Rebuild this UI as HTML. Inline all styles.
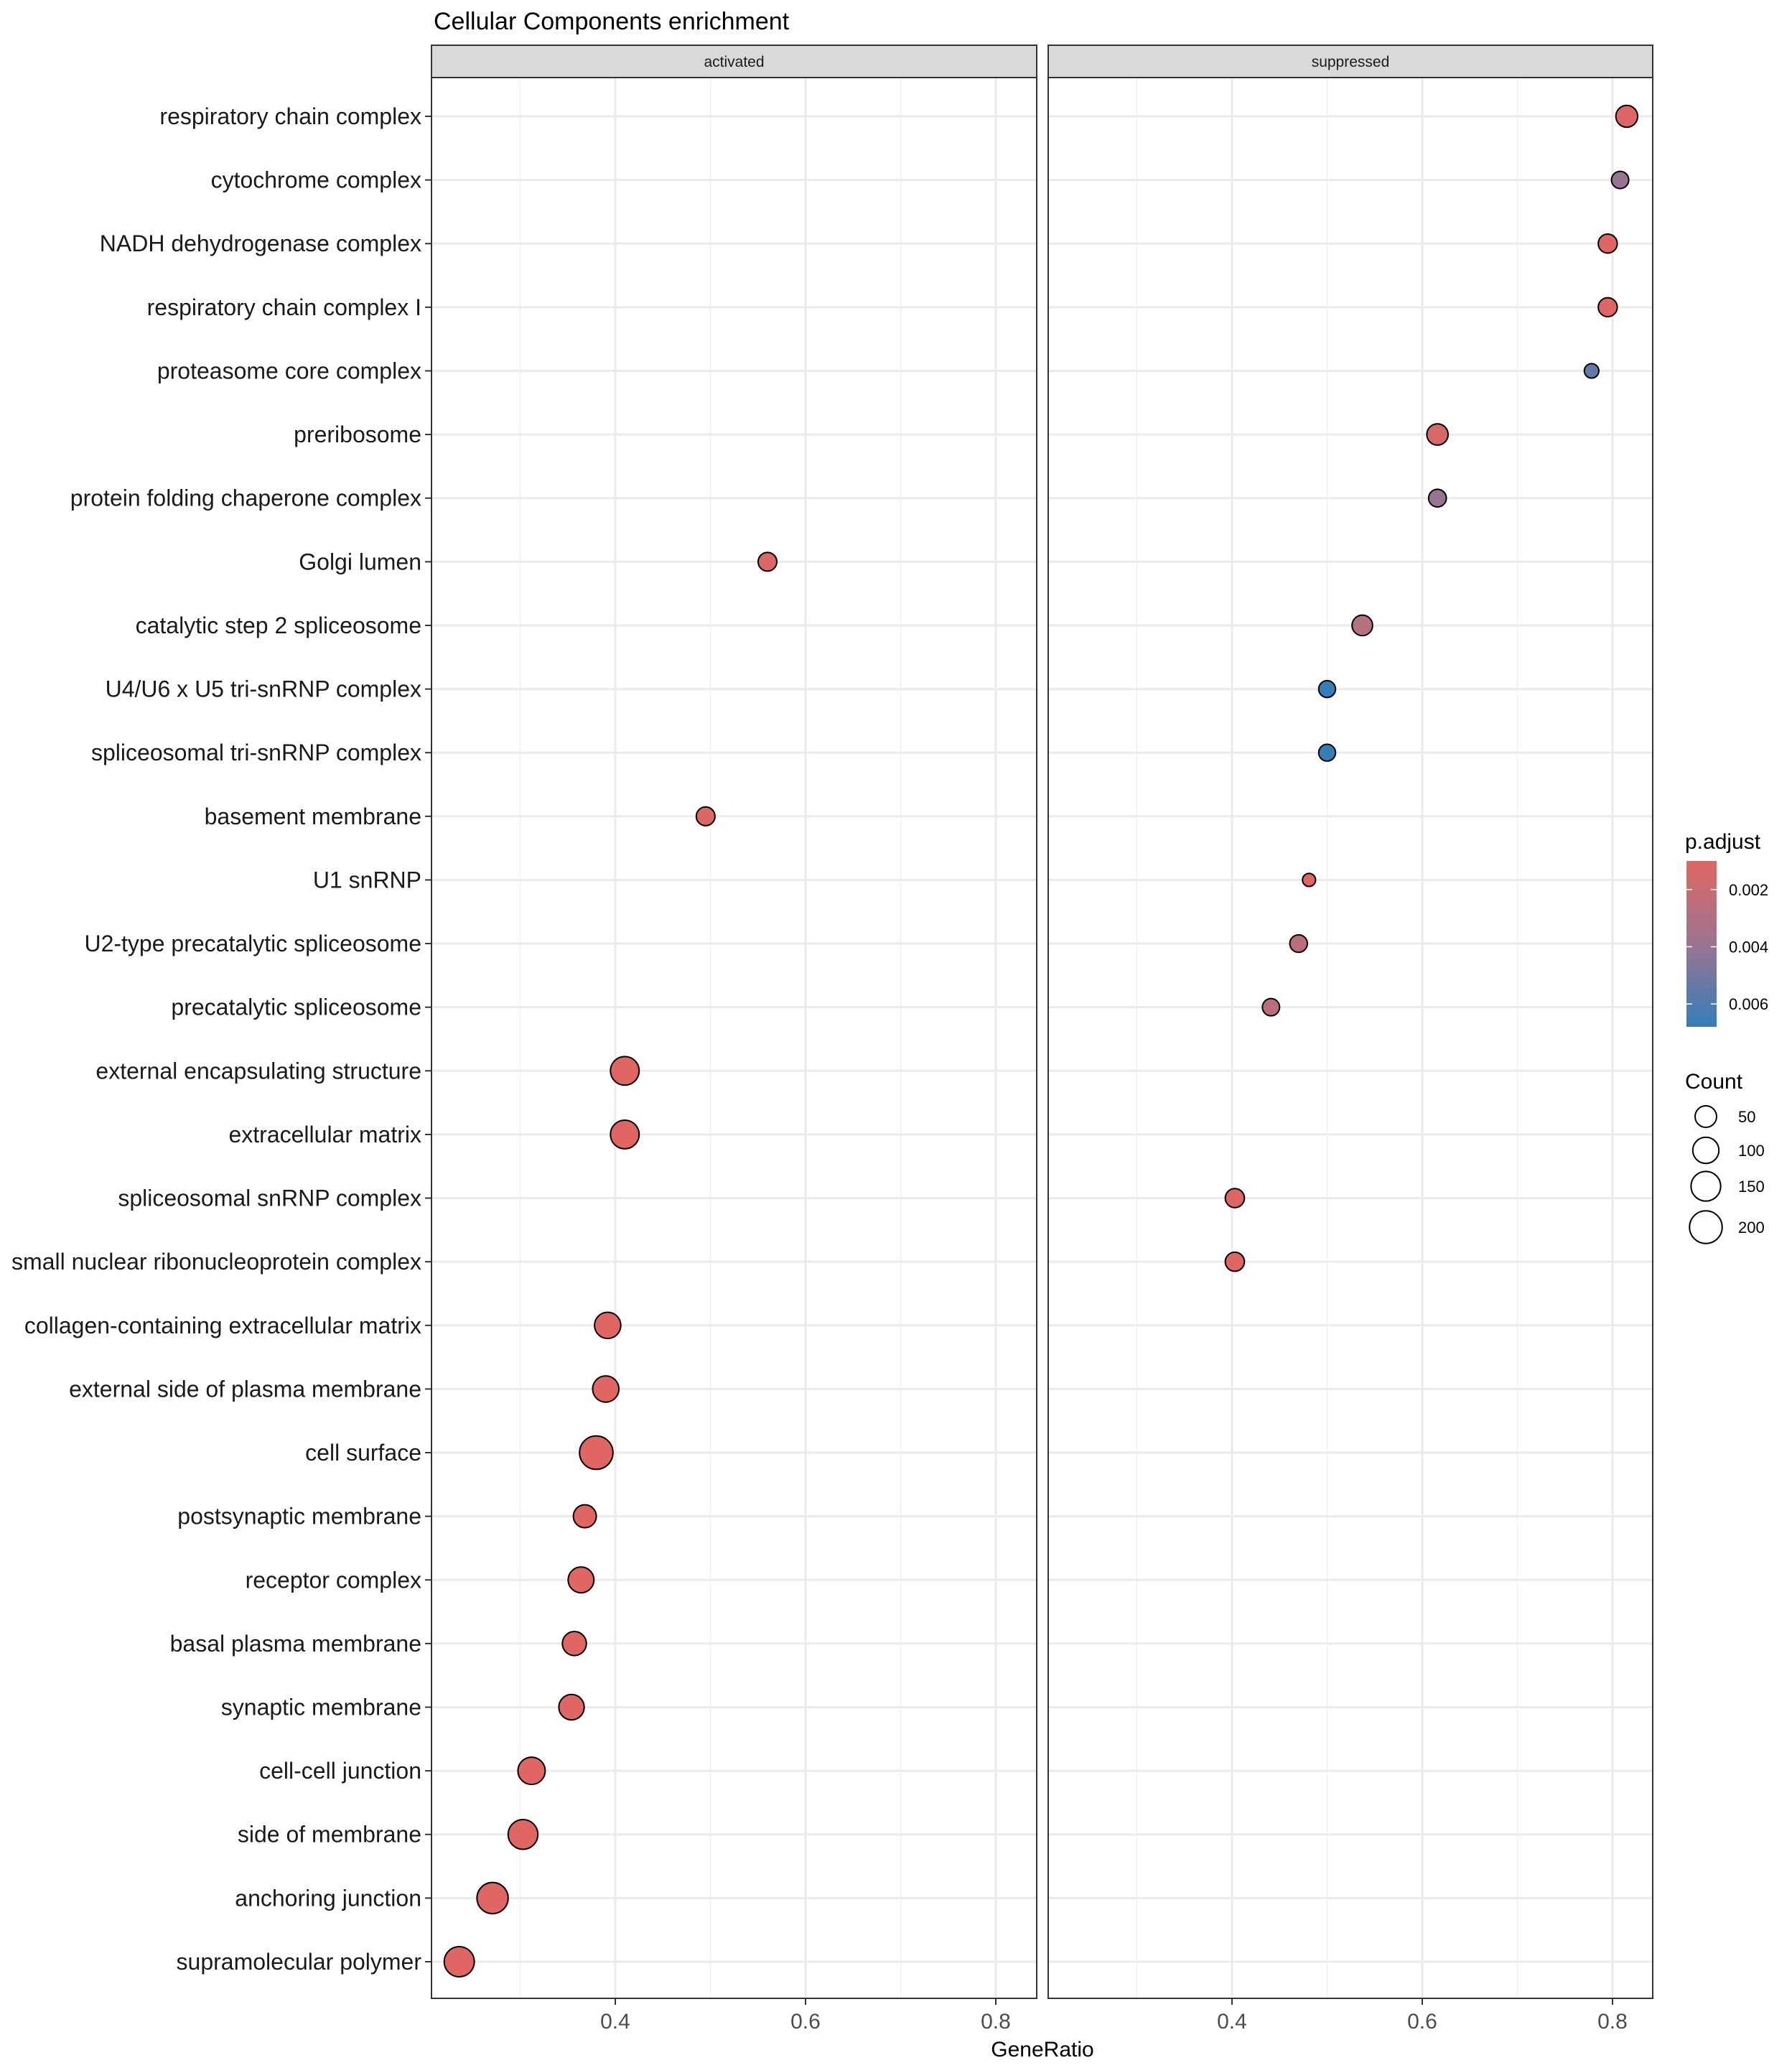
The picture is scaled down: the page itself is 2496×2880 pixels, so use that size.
<!DOCTYPE html>
<html><head><meta charset="utf-8"><style>
body{margin:0;background:#fff}
svg{display:block;font-family:"Liberation Sans",Arial,sans-serif}
</style></head><body>
<svg id="chart" width="2496" height="2880" viewBox="0 0 2496 2880" xmlns="http://www.w3.org/2000/svg">
<text x="604" y="41" font-size="34" fill="#000">Cellular Components enrichment</text>
<g id="grid"></g><g id="frames"></g><g id="marks"></g><g id="axes"></g><g id="legend"></g>
</svg>
<script>
const categories = ["respiratory chain complex","cytochrome complex","NADH dehydrogenase complex","respiratory chain complex I","proteasome core complex","preribosome","protein folding chaperone complex","Golgi lumen","catalytic step 2 spliceosome","U4/U6 x U5 tri-snRNP complex","spliceosomal tri-snRNP complex","basement membrane","U1 snRNP","U2-type precatalytic spliceosome","precatalytic spliceosome","external encapsulating structure","extracellular matrix","spliceosomal snRNP complex","small nuclear ribonucleoprotein complex","collagen-containing extracellular matrix","external side of plasma membrane","cell surface","postsynaptic membrane","receptor complex","basal plasma membrane","synaptic membrane","cell-cell junction","side of membrane","anchoring junction","supramolecular polymer"];
const panels = ["activated","suppressed"];
const actTerms = ["Golgi lumen","basement membrane","external encapsulating structure","extracellular matrix","collagen-containing extracellular matrix","external side of plasma membrane","cell surface","postsynaptic membrane","receptor complex","basal plasma membrane","synaptic membrane","cell-cell junction","side of membrane","anchoring junction","supramolecular polymer"];
const actRatio = [0.560,0.495,0.410,0.410,0.392,0.390,0.380,0.368,0.364,0.357,0.354,0.312,0.303,0.271,0.236];
const actCount = [28,28,135,135,102,102,214,64,96,75,91,115,151,174,157];
const actPadj = [0.00115,0.00115,0.0010,0.0010,0.0010,0.0010,0.0010,0.0010,0.0010,0.0010,0.0010,0.0010,0.0010,0.0010,0.0010];
const supTerms = ["respiratory chain complex","cytochrome complex","NADH dehydrogenase complex","respiratory chain complex I","proteasome core complex","preribosome","protein folding chaperone complex","catalytic step 2 spliceosome","U4/U6 x U5 tri-snRNP complex","spliceosomal tri-snRNP complex","U1 snRNP","U2-type precatalytic spliceosome","precatalytic spliceosome","spliceosomal snRNP complex","small nuclear ribonucleoprotein complex"];
const supRatio = [0.815,0.808,0.795,0.795,0.778,0.616,0.616,0.537,0.500,0.500,0.481,0.470,0.441,0.403,0.403];
const supCount = [53,19,30,30,7,48,22,42,17,17,3,21,19,31,31];
const supPadj = [0.00108,0.00402,0.00108,0.00108,0.00541,0.00139,0.00402,0.00278,0.00673,0.00673,0.00108,0.00255,0.00255,0.00108,0.00108];
const xTicks = [0.4,0.6,0.8];
const xMinor = [0.3,0.5,0.7];
const pTicks = [0.002,0.004,0.006];
const countBreaks = [50,100,150,200];

const NS="http://www.w3.org/2000/svg";
function mk(parent,tag,attrs,name,text){const e=document.createElementNS(NS,tag);for(const k in attrs)e.setAttribute(k,attrs[k]);


if(text!==undefined)e.textContent=text;parent.appendChild(e);return e;}
const panelX=[[601,1444],[1460,2302]];
const plotTop=108, plotBottom=2783;
function xScale(p,v){return panelX[p][0]+(v-0.2068)*1325;}
function yScale(i){return 162+i*88.62;}
function rScale(c){return 8.2+1.1*Math.sqrt(c);}
const pMin=0.0010,pMax=0.0068;
function color(p){let t=(p-pMin)/(pMax-pMin);t=Math.max(0,Math.min(1,t));
const a=[224,102,99],b=[50,126,186],m=[155,116,144];
let c;if(t<0.5){const u=t*2;c=a.map((v,k)=>v+(m[k]-v)*u);}else{const u=(t-0.5)*2;c=m.map((v,k)=>v+(b[k]-v)*u);}
return `rgb(${c.map(Math.round).join(',')})`;}
const G=document.getElementById('grid'),F=document.getElementById('frames'),M=document.getElementById('marks'),A=document.getElementById('axes'),L=document.getElementById('legend');
panels.forEach((pn,p)=>{
 const [x0,x1]=panelX[p];
 mk(G,'rect',{x:x0,y:plotTop,width:x1-x0,height:plotBottom-plotTop,fill:'#fff'},'panel-background-'+pn);
 xMinor.forEach(v=>mk(G,'line',{x1:xScale(p,v),x2:xScale(p,v),y1:plotTop,y2:plotBottom,stroke:'#F0F0F0','stroke-width':1.5},'minor-gridline'));
 xTicks.forEach(v=>mk(G,'line',{x1:xScale(p,v),x2:xScale(p,v),y1:plotTop,y2:plotBottom,stroke:'#EBEBEB','stroke-width':3},'major-gridline'));
 categories.forEach((c,i)=>mk(G,'line',{x1:x0,x2:x1,y1:yScale(i),y2:yScale(i),stroke:'#EBEBEB','stroke-width':3},'row-gridline'));
 mk(F,'rect',{x:x0,y:plotTop,width:x1-x0,height:plotBottom-plotTop,fill:'none',stroke:'#333','stroke-width':2},'panel-border-'+pn);
 mk(F,'rect',{x:x0,y:63,width:x1-x0,height:45,fill:'#D9D9D9',stroke:'#333','stroke-width':2},'strip-'+pn);
 mk(F,'text',{x:(x0+x1)/2,y:93,'font-size':21,'text-anchor':'middle',fill:'#1A1A1A'},'strip-label-'+pn,pn);
 xTicks.forEach(v=>{const x=xScale(p,v);
  mk(A,'line',{x1:x,x2:x,y1:plotBottom,y2:plotBottom+9,stroke:'#333','stroke-width':2},'x-tick');
  mk(A,'text',{x:x,y:2825,'font-size':30,'text-anchor':'middle',fill:'#4D4D4D'},'x-tick-label',v.toFixed(1));});
});
categories.forEach((c,i)=>{const y=yScale(i);
 mk(A,'line',{x1:592,x2:601,y1:y,y2:y,stroke:'#333','stroke-width':2},'y-tick');
 mk(A,'text',{x:587,y:y+11,'font-size':32,'text-anchor':'end',fill:'#1A1A1A'},'y-tick-label',c);});
mk(A,'text',{x:1452,y:2864,'font-size':30,'text-anchor':'middle',fill:'#000'},'x-axis-title','GeneRatio');
function drawSeries(p,terms,ratio,count,padj,nm){terms.forEach((t,k)=>{const i=categories.indexOf(t);
 mk(M,'circle',{cx:xScale(p,ratio[k]),cy:yScale(i),r:rScale(count[k])-1,fill:color(padj[k]),stroke:'#000','stroke-width':2},nm+'-point');});}
drawSeries(0,actTerms,actRatio,actCount,actPadj,'activated');
drawSeries(1,supTerms,supRatio,supCount,supPadj,'suppressed');
mk(L,'text',{x:2347,y:1182,'font-size':30,fill:'#000'},'color-legend-title','p.adjust');
const defs=mk(L,'defs',{},'legend-defs');
const lg=mk(defs,'linearGradient',{id:'pg',x1:0,y1:0,x2:0,y2:1},'colorbar-gradient');
for(let s=0;s<=10;s++){const p=pMin+(pMax-pMin)*s/10;mk(lg,'stop',{offset:s/10,'stop-color':color(p)},'gradient-stop');}
const cbTop=1199,cbBot=1430;
mk(L,'rect',{x:2349,y:cbTop,width:42,height:cbBot-cbTop,fill:'url(#pg)'},'colorbar');
pTicks.forEach(v=>{const y=cbTop+(v-pMin)/(pMax-pMin)*(cbBot-cbTop);
 mk(L,'line',{x1:2349,x2:2357,y1:y,y2:y,stroke:'#fff','stroke-width':1.5},'colorbar-tick');
 mk(L,'line',{x1:2383,x2:2391,y1:y,y2:y,stroke:'#fff','stroke-width':1.5},'colorbar-tick');
 mk(L,'text',{x:2408,y:y+8,'font-size':22,fill:'#000'},'colorbar-label',v.toFixed(3));});
mk(L,'text',{x:2347,y:1516,'font-size':30,fill:'#000'},'size-legend-title','Count');
const legCy=[1555,1602,1652,1709];
countBreaks.forEach((c,k)=>{mk(L,'circle',{cx:2376,cy:legCy[k],r:rScale(c)-1,fill:'none',stroke:'#000','stroke-width':2},'size-legend-key');
 mk(L,'text',{x:2421,y:legCy[k]+8,'font-size':22,fill:'#000'},'size-legend-label',String(c));});
</script>
</body></html>
